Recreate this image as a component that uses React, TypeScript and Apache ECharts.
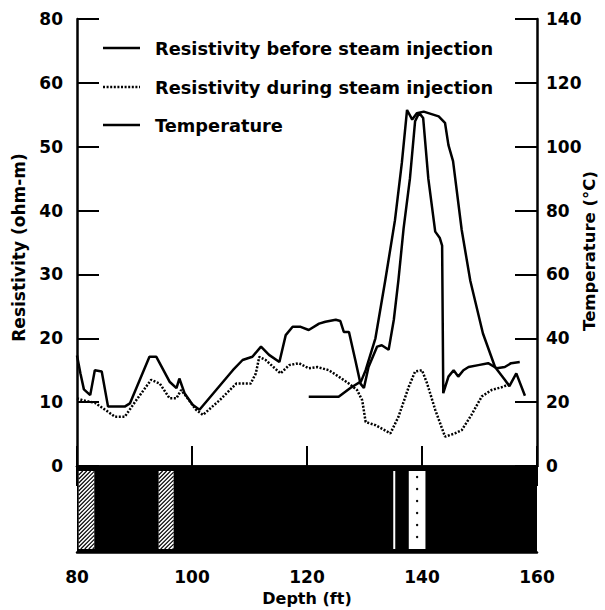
import React, { useEffect, useRef } from "react";
import * as echarts from "echarts";

// Resistivity before steam injection (ohm-m) vs depth (ft)
const depthBefore = [80, 80.6, 81.2, 82.3, 83.1, 84.3, 85.4, 88.3, 89.2, 92.6, 93.8, 96.1, 97.3, 97.8, 98.7, 100.1, 101.3, 104.2, 107.1, 108.8, 110.5, 112.0, 113.4, 115.2, 116.3, 117.5, 118.9, 120.3, 122.1, 123.2, 125.0, 125.8, 126.4, 127.3, 128.4, 129.3, 129.9, 130.7, 132.2, 133.0, 134.2, 135.1, 135.9, 136.8, 137.9, 138.8, 139.5, 140.2, 141.1, 142.3, 143.1, 143.5, 143.7, 144.6, 145.5, 146.3, 147.2, 148.1, 149.8, 151.5, 153.0, 154.4, 155.5, 157.0];
const resBefore = [17.3, 14.5, 12.0, 11.1, 15.0, 14.8, 9.3, 9.3, 9.8, 17.1, 17.1, 13.2, 12.2, 13.7, 11.4, 9.6, 8.8, 11.9, 15.0, 16.6, 17.1, 18.7, 17.4, 16.3, 20.5, 21.8, 21.8, 21.3, 22.3, 22.6, 22.9, 22.7, 21.0, 21.0, 16.6, 12.9, 12.2, 15.5, 18.7, 18.9, 18.2, 22.9, 29.1, 37.2, 45.0, 54.0, 55.3, 54.5, 45.0, 36.7, 35.7, 34.5, 11.4, 14.0, 15.0, 14.0, 15.0, 15.5, 15.8, 16.1, 15.3, 15.5, 16.1, 16.3];

// Resistivity during steam injection (ohm-m)
const depthDuring = [80, 81.0, 83.1, 85.4, 86.6, 88.3, 90.3, 92.9, 94.4, 96.1, 97.3, 98.1, 99.0, 100.7, 101.9, 104.8, 107.7, 110.2, 111.1, 111.7, 112.8, 115.4, 116.9, 118.6, 120.3, 121.8, 123.8, 125.5, 127.3, 128.7, 129.6, 130.2, 131.9, 134.5, 135.9, 137.7, 138.8, 140.0, 140.9, 142.3, 144.0, 145.7, 146.9, 148.6, 150.4, 152.1, 154.1, 155.5];
const resDuring = [10.6, 10.3, 9.9, 8.5, 7.7, 7.7, 10.3, 13.5, 12.9, 10.6, 10.6, 11.9, 10.9, 8.8, 8.0, 10.3, 12.9, 12.9, 14.5, 17.1, 16.6, 14.5, 15.8, 16.1, 15.3, 15.5, 15.0, 14.0, 12.9, 11.9, 10.3, 6.9, 6.4, 5.1, 7.7, 12.4, 14.8, 15.0, 12.9, 8.8, 4.6, 5.1, 5.6, 8.0, 10.9, 11.9, 12.4, 13.0];

// Temperature (°C)
const depthTemp = [120.3, 125.5, 127.6, 129.4, 130.2, 131.9, 133.6, 135.3, 136.5, 137.4, 138.3, 139.1, 140.3, 142.9, 144.0, 144.6, 145.4, 146.9, 148.4, 150.6, 152.7, 154.4, 155.2, 156.4, 157.9];
const temperature = [21.7, 21.7, 24.5, 26.5, 30, 40, 58, 77, 95, 111.5, 108.5, 110.5, 111, 109.5, 107.5, 100.5, 95.5, 74, 58, 41.5, 31, 27, 25, 29, 22];

// Lithology column below the plot
const lithoStart = [80, 80.3, 94.2, 135.0, 137.7];
const lithoEnd = [160, 83.0, 96.8, 135.35, 140.6];
const lithoKind = [0, 1, 1, 2, 3]; // 0 dark, 1 hatched, 2 thin gap, 3 dotted sand

const leftTickLabels = ["0", "10", "20", "30", "40", "50", "60", "80"];
const legendNames = [
  "Resistivity before steam injection",
  "Resistivity during steam injection",
  "Temperature",
];
const rightAxisName = "Temperature (°C)";

const FONT = "DejaVu Sans";

export default function App() {
  const ref = useRef<HTMLDivElement>(null);
  useEffect(() => {
    if (!ref.current) return;
    const chart = echarts.init(ref.current, null, { renderer: "svg" });
    const axisLineStyle = { color: "#000", width: 2.5 };
    const labelStyle = { color: "#000", fontFamily: FONT, fontWeight: "bold" as const, fontSize: 17 };

    const renderLitho = (params: any, api: any) => {
      const s = api.value(0);
      const e = api.value(1);
      const k = api.value(2);
      const p0 = api.coord([s, 1]);
      const p1 = api.coord([e, 0]);
      const x0 = p0[0], y0 = p0[1], x1 = p1[0], y1 = p1[1];
      if (k === 0) {
        return { type: "rect", shape: { x: x0, y: y0, width: x1 - x0, height: y1 - y0 }, style: { fill: "#000" } };
      }
      const t0 = y0 + 5;
      const t1 = y1 - 3;
      const h = t1 - t0;
      const children: any[] = [
        { type: "rect", shape: { x: x0, y: t0, width: x1 - x0, height: h }, style: { fill: "#fff" } },
      ];
      if (k === 1) {
        const step = 4;
        for (let xs = x0 - h; xs < x1; xs += step) {
          const ax = Math.max(x0, xs);
          const bx = Math.min(x1, xs + h);
          if (bx <= ax) continue;
          children.push({
            type: "line",
            shape: { x1: ax, y1: t1 - (ax - xs), x2: bx, y2: t1 - (bx - xs) },
            style: { stroke: "#000", lineWidth: 1.1 },
          });
        }
      } else if (k === 3) {
        const cx = (x0 + x1) / 2;
        for (let yy = t0 + 6; yy < t1 - 3; yy += 12) {
          children.push({ type: "circle", shape: { cx, cy: yy, r: 1.2 }, style: { fill: "#000" } });
        }
      }
      return { type: "group", children };
    };

    const legendY = [48, 87, 125];
    const graphic: any[] = [];
    legendNames.forEach((name, i) => {
      graphic.push({
        type: "line",
        shape: { x1: 103, y1: legendY[i], x2: 140, y2: legendY[i] },
        style: { stroke: "#000", lineWidth: 2.5, lineDash: i === 1 ? [2, 1.6] : null },
      });
      graphic.push({
        type: "text",
        x: 155,
        y: legendY[i],
        style: { text: name, fill: "#000", font: `bold 17.8px "${FONT}"`, verticalAlign: "middle", align: "left" },
      });
    });
    graphic.push({
      type: "text",
      x: 589,
      y: 251,
      rotation: Math.PI / 2,
      style: { text: rightAxisName, fill: "#000", font: `bold 16.5px "${FONT}"`, verticalAlign: "middle", align: "center" },
    });

    chart.setOption({
      animation: false,
      backgroundColor: "#fff",
      grid: [
        { left: 77, right: 68, top: 19, height: 447, containLabel: false, outerBoundsMode: "none" },
        { left: 77, right: 68, top: 466, height: 86, containLabel: false, outerBoundsMode: "none" },
      ],
      xAxis: [
        {
          gridIndex: 0, type: "value", position: "top", min: 80, max: 160, interval: 20,
          axisLine: { show: true, lineStyle: axisLineStyle },
          axisTick: { show: true, inside: true, length: 20, lineStyle: { color: "#000", width: 2 } },
          axisLabel: { show: false }, splitLine: { show: false },
        },
        {
          gridIndex: 0, type: "value", position: "bottom", min: 80, max: 160, interval: 20,
          axisLine: { show: true, lineStyle: axisLineStyle },
          axisTick: { show: true, inside: true, length: 20, lineStyle: { color: "#000", width: 2 } },
          axisLabel: { show: false }, splitLine: { show: false },
        },
        {
          gridIndex: 1, type: "value", position: "bottom", min: 80, max: 160, interval: 20,
          axisLine: { show: true, lineStyle: axisLineStyle },
          axisTick: { show: false },
          axisLabel: { ...labelStyle, margin: 16 },
          splitLine: { show: false },
          name: "Depth (ft)", nameLocation: "middle", nameGap: 38,
          nameTextStyle: { color: "#000", fontFamily: FONT, fontWeight: "bold", fontSize: 16 },
        },
      ],
      yAxis: [
        {
          gridIndex: 0, type: "value", position: "left", min: 0, max: 70, interval: 10,
          axisLine: { show: true, lineStyle: axisLineStyle },
          axisTick: { show: true, inside: true, length: 22, lineStyle: { color: "#000", width: 2 } },
          axisLabel: { ...labelStyle, margin: 14, formatter: (v: number) => leftTickLabels[Math.round(v / 10)] },
          splitLine: { show: false },
          name: "Resistivity (ohm-m)", nameLocation: "middle", nameGap: 50, nameRotate: 90,
          nameTextStyle: { color: "#000", fontFamily: FONT, fontWeight: "bold", fontSize: 17, padding: [0, 10, 0, 0] },
        },
        {
          gridIndex: 0, type: "value", position: "right", min: 0, max: 140, interval: 20,
          axisLine: { show: true, lineStyle: axisLineStyle },
          axisTick: { show: true, inside: true, length: 22, lineStyle: { color: "#000", width: 2 } },
          axisLabel: { ...labelStyle, margin: 9 },
          splitLine: { show: false },
        },
        { gridIndex: 1, type: "value", min: 0, max: 1, show: false },
      ],
      graphic,
      series: [
        {
          type: "custom", name: "Lithology", xAxisIndex: 2, yAxisIndex: 2,
          renderItem: renderLitho,
          data: lithoStart.map((s, i) => [s, lithoEnd[i], lithoKind[i]]),
          silent: true,
        },
        {
          type: "line", name: legendNames[0], xAxisIndex: 0, yAxisIndex: 0, symbol: "none",
          data: depthBefore.map((d, i) => [d, resBefore[i]]),
          lineStyle: { color: "#000", width: 2.5 },
        },
        {
          type: "line", name: legendNames[1], xAxisIndex: 0, yAxisIndex: 0, symbol: "none",
          data: depthDuring.map((d, i) => [d, resDuring[i]]),
          lineStyle: { color: "#000", width: 2.5, type: [2, 1.6] },
        },
        {
          type: "line", name: legendNames[2], xAxisIndex: 0, yAxisIndex: 1, symbol: "none",
          data: depthTemp.map((d, i) => [d, temperature[i]]),
          lineStyle: { color: "#000", width: 2.5 },
        },
      ],
    });
    return () => chart.dispose();
  }, []);
  return <div ref={ref} style={{ position: "fixed", left: 0, top: 0, width: 605, height: 610 }} />;
}
